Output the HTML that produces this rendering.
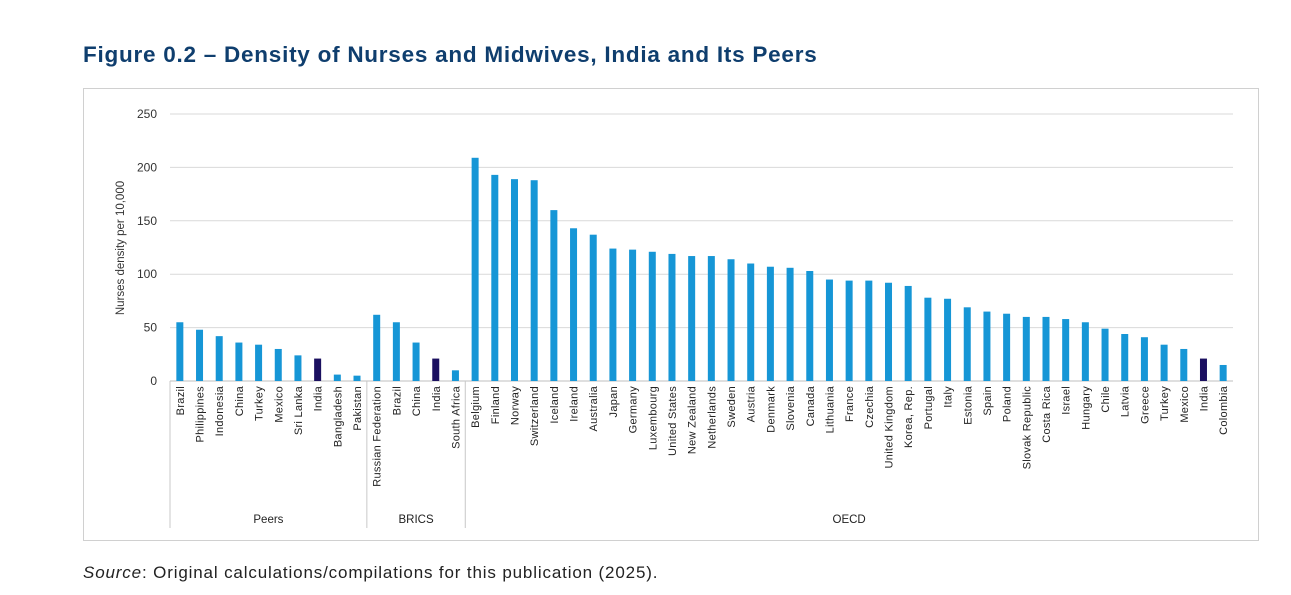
<!DOCTYPE html>
<html><head><meta charset="utf-8"><style>
body{margin:0;background:#fff;width:1291px;height:595px;overflow:hidden;font-family:"Liberation Sans",sans-serif}
#title{position:absolute;left:83px;top:42px;font-size:22.5px;font-weight:bold;color:#0f3e6e;margin:0;letter-spacing:0.75px;white-space:nowrap}
#src{position:absolute;left:83px;top:563px;font-size:17px;color:#222;letter-spacing:0.85px;white-space:nowrap}
svg{position:absolute;left:0;top:0}
</style></head><body>
<h1 id="title">Figure 0.2 – Density of Nurses and Midwives, India and Its Peers</h1>
<div id="src"><i>Source</i>: Original calculations/compilations for this publication (2025).</div>
<svg id="chart" width="1291" height="595"></svg>
<script>
const groups=["Peers","BRICS","OECD"];
const groupSizes=[10,5,39];
const categories=["Brazil","Philippines","Indonesia","China","Turkey","Mexico","Sri Lanka","India","Bangladesh","Pakistan",
"Russian Federation","Brazil","China","India","South Africa",
"Belgium","Finland","Norway","Switzerland","Iceland","Ireland","Australia","Japan","Germany","Luxembourg","United States","New Zealand","Netherlands","Sweden","Austria","Denmark","Slovenia","Canada","Lithuania","France","Czechia","United Kingdom","Korea, Rep.","Portugal","Italy","Estonia","Spain","Poland","Slovak Republic","Costa Rica","Israel","Hungary","Chile","Latvia","Greece","Turkey","Mexico","India","Colombia"];
const values=[55,48,42,36,34,30,24,21,6,5,
62,55,36,21,10,
209,193,189,188,160,143,137,124,123,121,119,117,117,114,110,107,106,103,95,94,94,92,89,78,77,69,65,63,60,60,58,55,49,44,41,34,30,21,15];
const yTicks=[0,50,100,150,200,250];
const NS="http://www.w3.org/2000/svg";
const svg=document.getElementById('chart');
const X0=170,X1=1233,Y0=381,Y1=114;
const slot=(X1-X0)/categories.length;
const xc=i=>X0+slot*(i+0.5);
const y=v=>Y0-(v/250)*(Y0-Y1);
function mk(t,a){const e=document.createElementNS(NS,t);for(const k in a)e.setAttribute(k,a[k]);svg.appendChild(e);return e;}
const frame=mk('rect',{x:83.5,y:88.5,width:1175,height:452,fill:'none',stroke:'#d0d0d0'});


yTicks.forEach(t=>{
 const l=mk('line',{x1:X0,x2:X1,y1:y(t),y2:y(t),stroke:t===0?'#bfbfbf':'#d9d9d9','stroke-width':1});
 
 
 const tx=mk('text',{x:157,y:y(t)+4,'text-anchor':'end','font-size':12,fill:'#333'});tx.textContent=t;
 
 
});
const yt=mk('text',{transform:'translate(124,248) rotate(-90)','text-anchor':'middle','font-size':11.5,fill:'#333'});
yt.textContent='Nurses density per 10,000';


categories.forEach((c,i)=>{
 const v=values[i];const bw=7;
 const r=mk('rect',{x:xc(i)-bw/2,y:y(v),width:bw,height:Y0-y(v),fill:c==='India'?'#1b1060':'#1696d6'});
 
 
 const t=mk('text',{transform:`translate(${xc(i)+4},386) rotate(-90)`,'text-anchor':'end','font-size':11,'letter-spacing':0.3,fill:'#222'});
 t.textContent=c;
 
 
});
let start=0;
const bounds=[0];
groupSizes.forEach((n,g)=>{
 const gx=X0+slot*(start+n/2);
 const t=mk('text',{x:gx,y:523,'text-anchor':'middle','font-size':11.5,fill:'#222'});
 t.textContent=groups[g];
 
 
 start+=n;
 if(g<groupSizes.length-1)bounds.push(start);
});
bounds.forEach(b=>{
 const l=mk('line',{x1:X0+slot*b,x2:X0+slot*b,y1:Y0,y2:528,stroke:'#c8c8c8'});
 
 
});
</script>
</body></html>
